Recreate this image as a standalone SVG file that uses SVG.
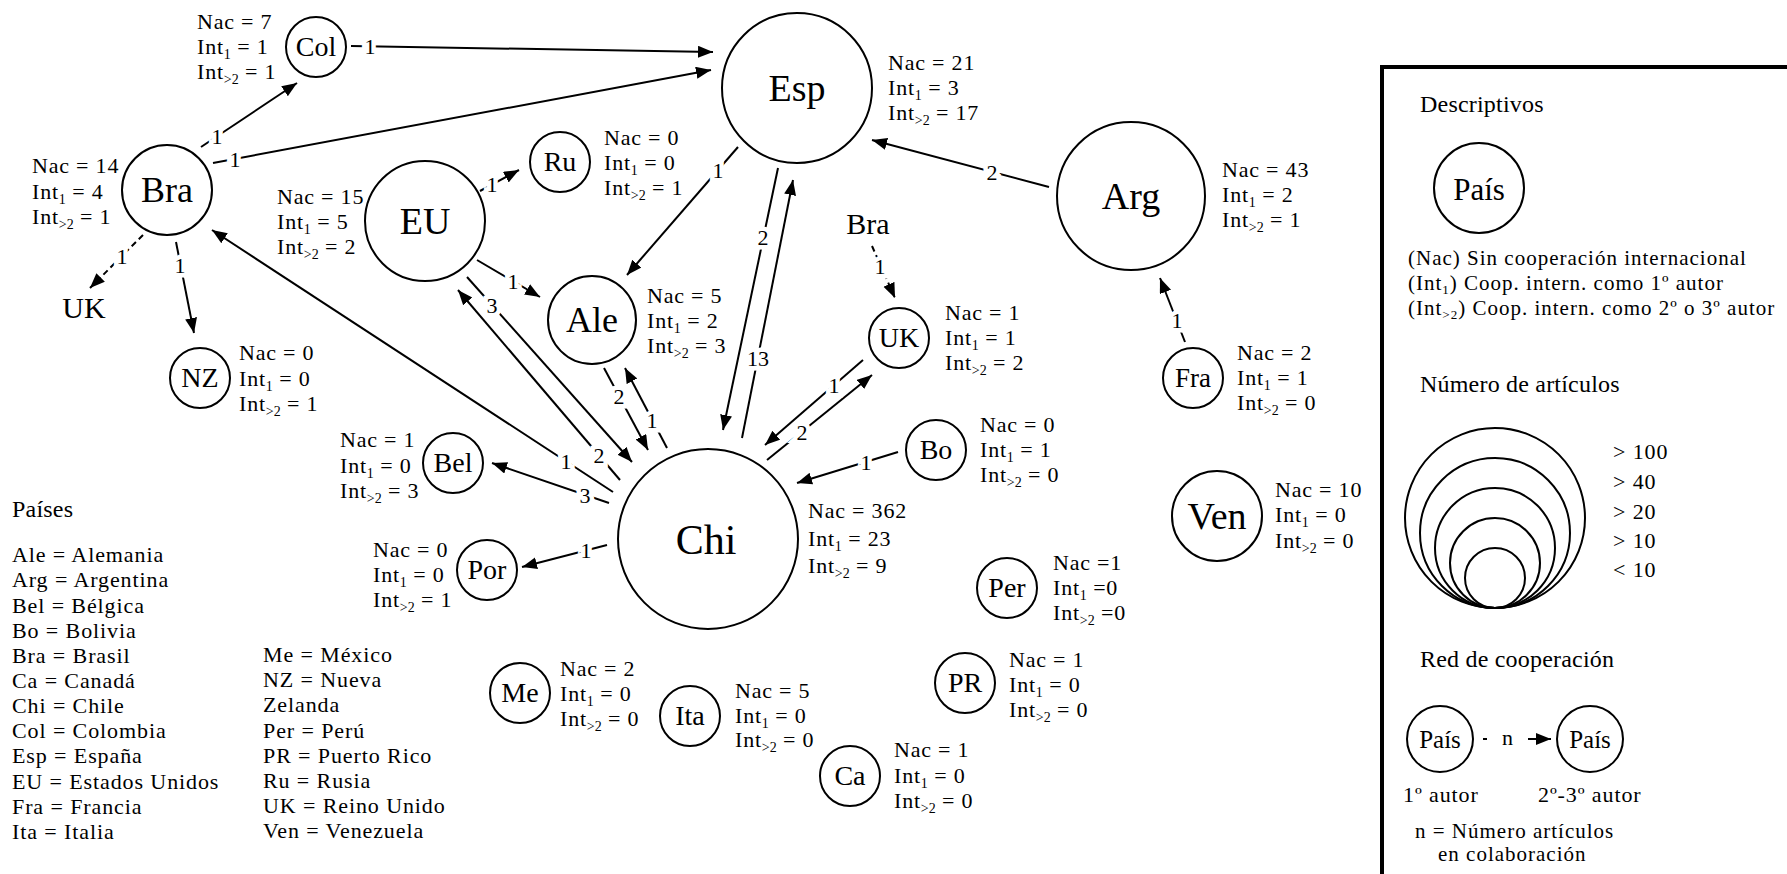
<svg xmlns="http://www.w3.org/2000/svg" width="1787" height="874" viewBox="0 0 1787 874" font-family="'Liberation Serif','Times New Roman',serif">
<defs>
<marker id="ah" markerUnits="userSpaceOnUse" markerWidth="16" markerHeight="14" refX="15" refY="6" orient="auto">
<path d="M0,0 L15,6 L0,12 z" fill="#000"/>
</marker>
</defs>
<style>
text{font-family:'Liberation Serif','Times New Roman',serif}
.n{fill:#fff;stroke:#000;stroke-width:2}
.nm{text-anchor:middle;fill:#000}
.st{font-size:22px;letter-spacing:0.8px;fill:#000}
.sb{font-size:14px;letter-spacing:0}
.e{stroke:#000;stroke-width:2;fill:none;marker-end:url(#ah)}
.d{stroke-dasharray:6 4}
.el{font-size:22px;text-anchor:middle;fill:#000;stroke:#fff;stroke-width:9;paint-order:stroke}
.lt{font-size:24px;letter-spacing:0.2px;fill:#000}
.ls{font-size:22px;letter-spacing:0.9px;fill:#000}
.lg{font-size:21px;letter-spacing:1px;fill:#000}
</style>
<rect width="1787" height="874" fill="#fff"/>

<g id="connectors">
<path class="e" d="M351,46 L713,52"/>
<path class="e" d="M213,163 L711,70"/>
<path class="e" d="M201,147 L297,83"/>
<path class="e" d="M480,191 L519,170"/>
<path class="e" d="M477,260 L540,297"/>
<path class="e" d="M467,277 L632,462"/>
<path class="e" d="M620,480 L458,290"/>
<path class="e" d="M613,492 L212,230"/>
<path class="e" d="M609,503 L492,463"/>
<path class="e" d="M607,545 L522,567"/>
<path class="e" d="M604,368 L648,450"/>
<path class="e" d="M667,448 L625,368"/>
<path class="e" d="M738,147 L627,275"/>
<path class="e" d="M778,168 L723,430"/>
<path class="e" d="M742,438 L793,180"/>
<path class="e d" d="M872,246 L895,298"/>
<path class="e" d="M863,360 L765,445"/>
<path class="e" d="M767,460 L872,375"/>
<path class="e" d="M898,452 L797,483"/>
<path class="e" d="M1049,187 L872,140"/>
<path class="e" d="M1185,342 L1160,278"/>
<path class="e d" d="M143,235 L90,288"/>
<path class="e" d="M176,242 L194,333"/>
<text class="el" x="370" y="54">1</text>
<text class="el" x="235" y="167">1</text>
<text class="el" x="217" y="144">1</text>
<text class="el" x="492" y="192">1</text>
<text class="el" x="513" y="289">1</text>
<text class="el" x="492" y="313">3</text>
<text class="el" x="599" y="463">2</text>
<text class="el" x="566" y="469">1</text>
<text class="el" x="585" y="503">3</text>
<text class="el" x="586" y="558">1</text>
<text class="el" x="619" y="404">2</text>
<text class="el" x="652" y="428">1</text>
<text class="el" x="718" y="178">1</text>
<text class="el" x="763" y="245">2</text>
<text class="el" x="758" y="366">13</text>
<text class="el" x="880" y="274">1</text>
<text class="el" x="834" y="393">1</text>
<text class="el" x="802" y="440">2</text>
<text class="el" x="866" y="470">1</text>
<text class="el" x="992" y="180">2</text>
<text class="el" x="1177" y="328">1</text>
<text class="el" x="122" y="264">1</text>
<text class="el" x="180" y="273">1</text>
</g>

<g id="node-Col">
<circle class="n" cx="316" cy="47" r="30"/>
<text class="nm" x="316" y="56" font-size="28">Col</text>
<text class="st" x="197" y="29">Nac = 7</text>
<text class="st" x="197" y="54">Int<tspan class="sb" dy="5">1</tspan><tspan dy="-5"> = 1</tspan></text>
<text class="st" x="197" y="79">Int<tspan class="sb" dy="5">&gt;2</tspan><tspan dy="-5"> = 1</tspan></text>
</g>

<g id="node-Bra">
<circle class="n" cx="167" cy="190" r="45"/>
<text class="nm" x="167" y="202" font-size="36">Bra</text>
<text class="st" x="32" y="173">Nac = 14</text>
<text class="st" x="32" y="199">Int<tspan class="sb" dy="5">1</tspan><tspan dy="-5"> = 4</tspan></text>
<text class="st" x="32" y="224">Int<tspan class="sb" dy="5">&gt;2</tspan><tspan dy="-5"> = 1</tspan></text>
</g>

<g id="node-EU">
<circle class="n" cx="425" cy="221" r="60"/>
<text class="nm" x="425" y="234" font-size="38">EU</text>
<text class="st" x="277" y="204">Nac = 15</text>
<text class="st" x="277" y="229">Int<tspan class="sb" dy="5">1</tspan><tspan dy="-5"> = 5</tspan></text>
<text class="st" x="277" y="254">Int<tspan class="sb" dy="5">&gt;2</tspan><tspan dy="-5"> = 2</tspan></text>
</g>

<g id="node-Ru">
<circle class="n" cx="560" cy="162" r="30"/>
<text class="nm" x="560" y="171" font-size="28">Ru</text>
<text class="st" x="604" y="145">Nac = 0</text>
<text class="st" x="604" y="170">Int<tspan class="sb" dy="5">1</tspan><tspan dy="-5"> = 0</tspan></text>
<text class="st" x="604" y="195">Int<tspan class="sb" dy="5">&gt;2</tspan><tspan dy="-5"> = 1</tspan></text>
</g>

<g id="node-Esp">
<circle class="n" cx="797" cy="88" r="75"/>
<text class="nm" x="797" y="101" font-size="38">Esp</text>
<text class="st" x="888" y="70">Nac = 21</text>
<text class="st" x="888" y="95">Int<tspan class="sb" dy="5">1</tspan><tspan dy="-5"> = 3</tspan></text>
<text class="st" x="888" y="120">Int<tspan class="sb" dy="5">&gt;2</tspan><tspan dy="-5"> = 17</tspan></text>
</g>

<g id="node-Ale">
<circle class="n" cx="592" cy="320" r="44"/>
<text class="nm" x="592" y="332" font-size="36">Ale</text>
<text class="st" x="647" y="303">Nac = 5</text>
<text class="st" x="647" y="328">Int<tspan class="sb" dy="5">1</tspan><tspan dy="-5"> = 2</tspan></text>
<text class="st" x="647" y="353">Int<tspan class="sb" dy="5">&gt;2</tspan><tspan dy="-5"> = 3</tspan></text>
</g>

<g id="node-Arg">
<circle class="n" cx="1131" cy="196" r="74"/>
<text class="nm" x="1131" y="209" font-size="38">Arg</text>
<text class="st" x="1222" y="177">Nac = 43</text>
<text class="st" x="1222" y="202">Int<tspan class="sb" dy="5">1</tspan><tspan dy="-5"> = 2</tspan></text>
<text class="st" x="1222" y="227">Int<tspan class="sb" dy="5">&gt;2</tspan><tspan dy="-5"> = 1</tspan></text>
</g>

<g id="node-UK">
<circle class="n" cx="899" cy="338" r="30"/>
<text class="nm" x="899" y="347" font-size="28">UK</text>
<text class="st" x="945" y="320">Nac = 1</text>
<text class="st" x="945" y="345">Int<tspan class="sb" dy="5">1</tspan><tspan dy="-5"> = 1</tspan></text>
<text class="st" x="945" y="370">Int<tspan class="sb" dy="5">&gt;2</tspan><tspan dy="-5"> = 2</tspan></text>
</g>

<g id="node-Bra-ref">
<text class="nm" x="868" y="234" font-size="30">Bra</text>
</g>

<g id="node-UK-ref">
<text class="nm" x="84" y="318" font-size="30">UK</text>
</g>

<g id="node-NZ">
<circle class="n" cx="200" cy="378" r="30"/>
<text class="nm" x="200" y="387" font-size="28">NZ</text>
<text class="st" x="239" y="360">Nac = 0</text>
<text class="st" x="239" y="386">Int<tspan class="sb" dy="5">1</tspan><tspan dy="-5"> = 0</tspan></text>
<text class="st" x="239" y="411">Int<tspan class="sb" dy="5">&gt;2</tspan><tspan dy="-5"> = 1</tspan></text>
</g>

<g id="node-Fra">
<circle class="n" cx="1193" cy="378" r="30"/>
<text class="nm" x="1193" y="387" font-size="27">Fra</text>
<text class="st" x="1237" y="360">Nac = 2</text>
<text class="st" x="1237" y="385">Int<tspan class="sb" dy="5">1</tspan><tspan dy="-5"> = 1</tspan></text>
<text class="st" x="1237" y="410">Int<tspan class="sb" dy="5">&gt;2</tspan><tspan dy="-5"> = 0</tspan></text>
</g>

<g id="node-Bel">
<circle class="n" cx="453" cy="463" r="30"/>
<text class="nm" x="453" y="472" font-size="28">Bel</text>
<text class="st" x="340" y="447">Nac = 1</text>
<text class="st" x="340" y="473">Int<tspan class="sb" dy="5">1</tspan><tspan dy="-5"> = 0</tspan></text>
<text class="st" x="340" y="498">Int<tspan class="sb" dy="5">&gt;2</tspan><tspan dy="-5"> = 3</tspan></text>
</g>

<g id="node-Bo">
<circle class="n" cx="936" cy="450" r="30"/>
<text class="nm" x="936" y="459" font-size="28">Bo</text>
<text class="st" x="980" y="432">Nac = 0</text>
<text class="st" x="980" y="457">Int<tspan class="sb" dy="5">1</tspan><tspan dy="-5"> = 1</tspan></text>
<text class="st" x="980" y="482">Int<tspan class="sb" dy="5">&gt;2</tspan><tspan dy="-5"> = 0</tspan></text>
</g>

<g id="node-Chi">
<circle class="n" cx="708" cy="539" r="90"/>
<text class="nm" x="706" y="554" font-size="42">Chi</text>
<text class="st" x="808" y="518">Nac = 362</text>
<text class="st" x="808" y="546">Int<tspan class="sb" dy="5">1</tspan><tspan dy="-5"> = 23</tspan></text>
<text class="st" x="808" y="573">Int<tspan class="sb" dy="5">&gt;2</tspan><tspan dy="-5"> = 9</tspan></text>
</g>

<g id="node-Ven">
<circle class="n" cx="1217" cy="516" r="45"/>
<text class="nm" x="1217" y="529" font-size="38">Ven</text>
<text class="st" x="1275" y="497">Nac = 10</text>
<text class="st" x="1275" y="522">Int<tspan class="sb" dy="5">1</tspan><tspan dy="-5"> = 0</tspan></text>
<text class="st" x="1275" y="548">Int<tspan class="sb" dy="5">&gt;2</tspan><tspan dy="-5"> = 0</tspan></text>
</g>

<g id="node-Por">
<circle class="n" cx="487" cy="570" r="30"/>
<text class="nm" x="487" y="579" font-size="28">Por</text>
<text class="st" x="373" y="557">Nac = 0</text>
<text class="st" x="373" y="582">Int<tspan class="sb" dy="5">1</tspan><tspan dy="-5"> = 0</tspan></text>
<text class="st" x="373" y="607">Int<tspan class="sb" dy="5">&gt;2</tspan><tspan dy="-5"> = 1</tspan></text>
</g>

<g id="node-Per">
<circle class="n" cx="1007" cy="588" r="30"/>
<text class="nm" x="1007" y="597" font-size="28">Per</text>
<text class="st" x="1053" y="570">Nac =1</text>
<text class="st" x="1053" y="595">Int<tspan class="sb" dy="5">1</tspan><tspan dy="-5"> =0</tspan></text>
<text class="st" x="1053" y="620">Int<tspan class="sb" dy="5">&gt;2</tspan><tspan dy="-5"> =0</tspan></text>
</g>

<g id="node-PR">
<circle class="n" cx="965" cy="683" r="30"/>
<text class="nm" x="965" y="692" font-size="28">PR</text>
<text class="st" x="1009" y="667">Nac = 1</text>
<text class="st" x="1009" y="692">Int<tspan class="sb" dy="5">1</tspan><tspan dy="-5"> = 0</tspan></text>
<text class="st" x="1009" y="717">Int<tspan class="sb" dy="5">&gt;2</tspan><tspan dy="-5"> = 0</tspan></text>
</g>

<g id="node-Me">
<circle class="n" cx="520" cy="693" r="30"/>
<text class="nm" x="520" y="702" font-size="28">Me</text>
<text class="st" x="560" y="676">Nac = 2</text>
<text class="st" x="560" y="701">Int<tspan class="sb" dy="5">1</tspan><tspan dy="-5"> = 0</tspan></text>
<text class="st" x="560" y="726">Int<tspan class="sb" dy="5">&gt;2</tspan><tspan dy="-5"> = 0</tspan></text>
</g>

<g id="node-Ita">
<circle class="n" cx="690" cy="716" r="30"/>
<text class="nm" x="690" y="725" font-size="28">Ita</text>
<text class="st" x="735" y="698">Nac = 5</text>
<text class="st" x="735" y="723">Int<tspan class="sb" dy="5">1</tspan><tspan dy="-5"> = 0</tspan></text>
<text class="st" x="735" y="747">Int<tspan class="sb" dy="5">&gt;2</tspan><tspan dy="-5"> = 0</tspan></text>
</g>

<g id="node-Ca">
<circle class="n" cx="850" cy="776" r="30"/>
<text class="nm" x="850" y="785" font-size="28">Ca</text>
<text class="st" x="894" y="757">Nac = 1</text>
<text class="st" x="894" y="783">Int<tspan class="sb" dy="5">1</tspan><tspan dy="-5"> = 0</tspan></text>
<text class="st" x="894" y="808">Int<tspan class="sb" dy="5">&gt;2</tspan><tspan dy="-5"> = 0</tspan></text>
</g>

<g id="paises-legend">
<text class="lt" x="12" y="517">Países</text>
<text class="ls" x="12" y="562">Ale = Alemania</text>
<text class="ls" x="12" y="587">Arg = Argentina</text>
<text class="ls" x="12" y="613">Bel = Bélgica</text>
<text class="ls" x="12" y="638">Bo = Bolivia</text>
<text class="ls" x="12" y="663">Bra = Brasil</text>
<text class="ls" x="12" y="688">Ca = Canadá</text>
<text class="ls" x="12" y="713">Chi = Chile</text>
<text class="ls" x="12" y="738">Col = Colombia</text>
<text class="ls" x="12" y="763">Esp = España</text>
<text class="ls" x="12" y="789">EU = Estados Unidos</text>
<text class="ls" x="12" y="814">Fra = Francia</text>
<text class="ls" x="12" y="839">Ita = Italia</text>
<text class="ls" x="263" y="662">Me = México</text>
<text class="ls" x="263" y="687">NZ = Nueva</text>
<text class="ls" x="263" y="712">Zelanda</text>
<text class="ls" x="263" y="738">Per = Perú</text>
<text class="ls" x="263" y="763">PR = Puerto Rico</text>
<text class="ls" x="263" y="788">Ru = Rusia</text>
<text class="ls" x="263" y="813">UK = Reino Unido</text>
<text class="ls" x="263" y="838">Ven = Venezuela</text>
</g>

<g id="legend-box">
<rect x="1382" y="67" width="460" height="860" fill="none" stroke="#000" stroke-width="4"/>
<text class="lt" x="1420" y="112" font-size="23">Descriptivos</text>
<circle class="n" cx="1479" cy="188" r="45"/>
<text class="nm" x="1479" y="200" font-size="31">País</text>
<text class="lg" x="1408" y="265">(Nac) Sin cooperación internacional</text>
<text class="lg" x="1408" y="290">(Int<tspan font-size="13" dy="4">1</tspan><tspan dy="-4">) Coop. intern. como 1º autor</tspan></text>
<text class="lg" x="1408" y="315">(Int<tspan font-size="13" dy="4">&gt;2</tspan><tspan dy="-4">) Coop. intern. como 2º o 3º autor</tspan></text>
<text class="lt" x="1420" y="392">Número de artículos</text>
<circle cx="1495" cy="518" r="90" fill="none" stroke="#000" stroke-width="2"/>
<circle cx="1495" cy="533" r="75" fill="none" stroke="#000" stroke-width="2"/>
<circle cx="1495" cy="548" r="60" fill="none" stroke="#000" stroke-width="2"/>
<circle cx="1495" cy="563" r="45" fill="none" stroke="#000" stroke-width="2"/>
<circle cx="1495" cy="578" r="30" fill="none" stroke="#000" stroke-width="2"/>
<text class="ls" x="1613" y="459">&gt; 100</text>
<text class="ls" x="1613" y="489">&gt; 40</text>
<text class="ls" x="1613" y="519">&gt; 20</text>
<text class="ls" x="1613" y="548">&gt; 10</text>
<text class="ls" x="1613" y="577">&lt; 10</text>
<text class="lt" x="1420" y="667">Red de cooperación</text>
<circle class="n" cx="1440" cy="739" r="33"/>
<text class="nm" x="1440" y="748" font-size="25">País</text>
<circle class="n" cx="1590" cy="739" r="33"/>
<text class="nm" x="1590" y="748" font-size="25">País</text>
<line x1="1483" y1="739" x2="1487" y2="739" stroke="#000" stroke-width="2"/>
<text class="ls" x="1502" y="745">n</text>
<line class="e" x1="1528" y1="739" x2="1551" y2="739"/>
<text class="ls" x="1403" y="802">1º autor</text>
<text class="ls" x="1538" y="802">2º-3º autor</text>
<text class="lg" x="1415" y="838">n = Número artículos</text>
<text class="lg" x="1438" y="861">en colaboración</text>
</g>
</svg>
